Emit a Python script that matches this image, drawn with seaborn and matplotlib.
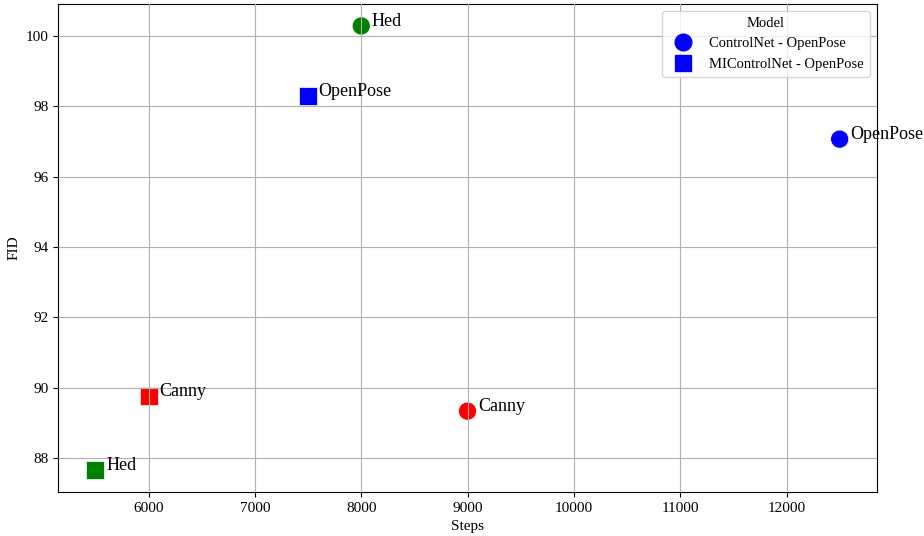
import numpy as np
import pandas as pd
from matplotlib import pyplot as plt
from matplotlib.lines import Line2D
import seaborn as sns

plt.rcParams['font.family'] = ['Liberation Serif', 'DejaVu Serif']

# data
models = ['ControlNet', 'ControlNet', 'ControlNet', 'MIControlNet', 'MIControlNet', 'MIControlNet']
controls = ['OpenPose', 'Canny', 'Hed', 'OpenPose', 'Canny', 'Hed']
steps = [12500, 9000, 8000, 7500, 6000, 5500]
fid = [97.07, 89.33, 100.29, 98.30, 89.77, 87.66]

df = pd.DataFrame({'Model': models, 'Control': controls, 'Steps': steps, 'FID': fid})

colors = {'OpenPose': 'blue', 'Canny': 'red', 'Hed': 'green'}
markers = {'ControlNet': 'o', 'MIControlNet': 's'}

fig, ax = plt.subplots(figsize=(9.24, 5.36), dpi=100)
sns.scatterplot(data=df, x='Steps', y='FID', hue='Control', style='Model',
                palette=colors, markers=markers, s=170, edgecolor='white',
                linewidth=0.5, legend=False, ax=ax, zorder=1)

for i, row in df.iterrows():
    ax.text(row.Steps + 100, row.FID, row.Control, fontsize=13)

ax.grid(True, color='#b0b0b0', linewidth=0.8, zorder=2)
ax.set_axisbelow(False)
ax.set_xlabel('Steps', fontsize=11)
ax.set_ylabel('FID', fontsize=11)
ax.tick_params(labelsize=11)

handles = [Line2D([], [], marker='o', color='blue', linestyle='', markersize=12),
           Line2D([], [], marker='s', color='blue', linestyle='', markersize=12)]
ax.legend(handles, ['ControlNet - OpenPose', 'MIControlNet - OpenPose'], title='Model',
          loc='upper right', fontsize=10.5, title_fontsize=10.5)

plt.subplots_adjust(left=0.063, right=0.949, top=0.993, bottom=0.082)
plt.savefig('out.png')
